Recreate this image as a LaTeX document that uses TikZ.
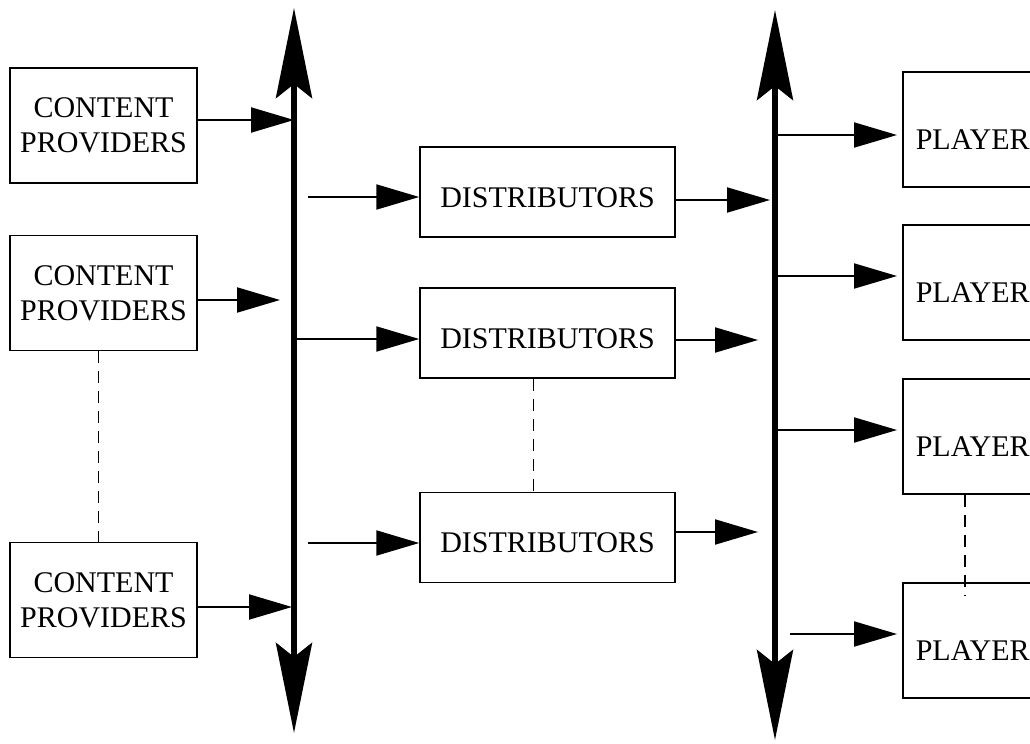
\documentclass[tikz,border=0pt]{standalone}
\usepackage{fontspec}
\setmainfont{Liberation Serif}
\usetikzlibrary{arrows.meta}

\begin{document}
\begin{tikzpicture}[x=0.5pt, y=-0.5pt,
box/.style={draw, line width=0.75pt, font=\fontsize{15}{17.5}\selectfont, align=center, inner sep=0pt},
provider/.style={box, minimum width=93.5pt, minimum height=57.5pt},
distributor/.style={box, minimum width=127.5pt, minimum height=45pt, text height=15pt, text depth=0pt},
player/.style={box, anchor=west, minimum height=57.5pt, text width=95pt, align=left,
  inner xsep=6.5pt, text height=20pt, text depth=0pt},
feed/.style={line width=1pt, -{Triangle[length=21.5pt, width=12.5pt]}},
bus/.style={line width=3pt, {Stealth[length=45pt, width=18pt, inset=7pt]}-{Stealth[length=45pt, width=18pt, inset=7pt]}},
more/.style={line width=0.8pt, dash pattern=on 6pt off 4pt}]
\useasboundingbox (0,0) rectangle (1030,744);
\clip (0,0) rectangle (1030,744);

% boxes
\node[provider] (Provider1) at (103.5,125.5) {CONTENT\\PROVIDERS};
\node[provider] (Provider2) at (103.5,293) {CONTENT\\PROVIDERS};
\node[provider] (Provider3) at (103.5,600) {CONTENT\\PROVIDERS};
\node[distributor] (Distributor1) at (547.5,192) {DISTRIBUTORS};
\node[distributor] (Distributor2) at (547.5,333) {DISTRIBUTORS};
\node[distributor] (Distributor3) at (547.5,537.5) {DISTRIBUTORS};
\node[player] (Player1) at (902,129.5) {PLAYER};
\node[player] (Player2) at (902,282.5) {PLAYER};
\node[player] (Player3) at (902,436.5) {PLAYER};
\node[player] (Player4) at (902,640.5) {PLAYER};

% the two buses
\coordinate (LeftTop) at (294,8);
\coordinate (LeftBottom) at (294,733);
\coordinate (RightTop) at (775,10);
\coordinate (RightBottom) at (775,740);
\draw[bus] (LeftTop) -- (LeftBottom);
\draw[bus] (RightTop) -- (RightBottom);

% providers to the left bus
\coordinate (LeftIn1) at (294,120);
\coordinate (LeftIn2) at (280,300);
\coordinate (LeftIn3) at (292,607);
\draw[feed] (Provider1.east |- LeftIn1) -- (LeftIn1);
\draw[feed] (Provider2.east |- LeftIn2) -- (LeftIn2);
\draw[feed] (Provider3.east |- LeftIn3) -- (LeftIn3);

% left bus to distributors
\coordinate (LeftOut1) at (308,197);
\coordinate (LeftOut2) at (296,339);
\coordinate (LeftOut3) at (308,543);
\draw[feed] (LeftOut1) -- (LeftOut1 -| Distributor1.west);
\draw[feed] (LeftOut2) -- (LeftOut2 -| Distributor2.west);
\draw[feed] (LeftOut3) -- (LeftOut3 -| Distributor3.west);

% distributors to the right bus
\coordinate (RightIn1) at (770,200);
\coordinate (RightIn2) at (758,340);
\coordinate (RightIn3) at (758,532);
\draw[feed] (Distributor1.east |- RightIn1) -- (RightIn1);
\draw[feed] (Distributor2.east |- RightIn2) -- (RightIn2);
\draw[feed] (Distributor3.east |- RightIn3) -- (RightIn3);

% right bus to players
\coordinate (RightOut1) at (775,135);
\coordinate (RightOut2) at (775,276);
\coordinate (RightOut3) at (775,430);
\coordinate (RightOut4) at (790,634);
\draw[feed, shorten >=2.5pt] (RightOut1) -- (RightOut1 -| Player1.west);
\draw[feed, shorten >=2.5pt] (RightOut2) -- (RightOut2 -| Player2.west);
\draw[feed, shorten >=2.5pt] (RightOut3) -- (RightOut3 -| Player3.west);
\draw[feed, shorten >=2.5pt] (RightOut4) -- (RightOut4 -| Player4.west);

% more of the same
\draw[more] ([xshift=-2.5pt]Provider2.south) -- ([xshift=-2.5pt]Provider3.north);
\draw[more] ([xshift=-7pt]Distributor2.south) -- ([xshift=-7pt]Distributor3.north);
\draw[more] ([xshift=31.5pt]Player3.south west) -- ([xshift=31.5pt, yshift=-7pt]Player4.north west);
\end{tikzpicture}
\end{document}
